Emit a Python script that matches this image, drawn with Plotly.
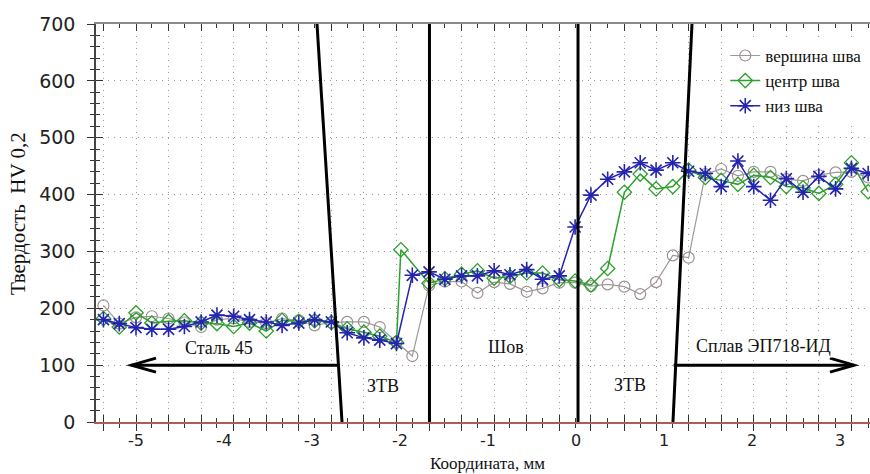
import plotly.graph_objects as go

# ---------------- data ----------------
X_MM = [-5.37, -5.19, -5.00, -4.82, -4.63, -4.45, -4.26, -4.08, -3.89, -3.71,
        -3.52, -3.34, -3.15, -2.97, -2.78, -2.60, -2.41, -2.23, -2.04, -1.86,
        -1.67, -1.49, -1.30, -1.12, -0.93, -0.75, -0.56, -0.38, -0.19, -0.01,
        0.17, 0.36, 0.55, 0.73, 0.91, 1.10, 1.28, 1.47, 1.65, 1.84,
        2.02, 2.21, 2.39, 2.58, 2.76, 2.95, 3.13, 3.32]

TOP_HV = [205, 173, 184, 186, 182, 175, 167, 180, 182, 176,
          174, 182, 179, 170, 175, 176, 176, 167, 141, 116,
          240, 247, 247, 227, 246, 243, 229, 235, 245, 245,
          239, 242, 238, 225, 246, 293, 289, 436, 445, 433,
          440, 440, 427, 424, 434, 439, 440, 430]

CENTER_X = [-5.37, -5.19, -5.00, -4.82, -4.63, -4.45, -4.26, -4.08, -3.89, -3.71,
            -3.52, -3.34, -3.15, -2.97, -2.78, -2.60, -2.41, -2.23, -2.04, -1.99,
            -1.67, -1.49, -1.30, -1.12, -0.93, -0.75, -0.56, -0.38, -0.19, -0.01,
            0.17, 0.36, 0.55, 0.73, 0.91, 1.10, 1.28, 1.47, 1.65, 1.84,
            2.02, 2.21, 2.39, 2.58, 2.76, 2.95, 3.13, 3.32]
CENTER_HV = [182, 167, 192, 174, 177, 178, 174, 173, 168, 174,
             160, 179, 177, 178, 175, 164, 158, 151, 140, 303,
             244, 252, 260, 266, 253, 256, 262, 262, 250, 248,
             241, 270, 404, 436, 410, 414, 443, 430, 425, 418,
             434, 430, 414, 412, 402, 418, 456, 405]

BOTTOM_HV = [180, 173, 166, 163, 163, 168, 176, 188, 186, 180,
             176, 170, 174, 180, 176, 157, 148, 144, 138, 258,
             264, 251, 257, 257, 266, 259, 268, 251, 257, 343,
             399, 427, 440, 456, 443, 456, 441, 437, 414, 459,
             414, 390, 428, 404, 432, 410, 446, 437]

SERIES_NAMES = ["вершина шва", "центр шва", "низ шва"]
X_TICKS = [-5, -4, -3, -2, -1, 0, 1, 2, 3]
X_TICK_TEXT = ["-5", "-4", "-3", "-2", "-1", "0", "1", "2", "3"]
Y_TICKS = [0, 100, 200, 300, 400, 500, 600, 700]

X_RANGE = [-5.4545, 3.341]
Y_RANGE = [0, 700]

SERIF = "Liberation Serif, Times New Roman, serif"
SANS = "DejaVu Sans, Verdana, sans-serif"

GRID_POS = X_MM[0::2]
MINOR_POS = X_MM[1::2]

fig = go.Figure()

fig.add_trace(go.Scatter(
    x=X_MM, y=TOP_HV, name=SERIES_NAMES[0], mode="lines+markers",
    line=dict(color="#9a9a9a", width=1.2),
    marker=dict(symbol="circle-open", size=11, color="#a09090",
                line=dict(width=1.2, color="#a09090"))))
fig.add_trace(go.Scatter(
    x=CENTER_X, y=CENTER_HV, name=SERIES_NAMES[1], mode="lines+markers",
    line=dict(color="#2ca02c", width=1.5),
    marker=dict(symbol="diamond-open", size=11, color="#2ca02c",
                line=dict(width=1.3, color="#2ca02c"))))
fig.add_trace(go.Scatter(
    x=X_MM, y=BOTTOM_HV, name=SERIES_NAMES[2], mode="lines+markers",
    line=dict(color="#2424b0", width=1.5),
    marker=dict(symbol="asterisk-open", size=13, color="#2424b0",
                line=dict(width=1.6, color="#2424b0"))))

# invisible helpers so the overlay axes are drawn
for xa, ya in [("x2", "y"), ("x3", "y"), ("x4", "y"), ("x", "y2")]:
    fig.add_trace(go.Scatter(x=[X_RANGE[0]], y=[0], xaxis=xa, yaxis=ya,
                             mode="markers", marker=dict(opacity=0),
                             showlegend=False, hoverinfo="skip"))

grid_style = dict(showgrid=True, gridcolor="#9a9a9a", gridwidth=1, griddash="1px,5px")

fig.update_layout(
    width=870, height=474,
    margin=dict(l=96, r=0, t=24, b=52),
    plot_bgcolor="white", paper_bgcolor="white",
    xaxis=dict(range=X_RANGE, showline=True, linecolor="#b05a5a", linewidth=1.5,
               ticks="outside", tickvals=GRID_POS, ticklen=7, tickcolor="#333",
               tickwidth=1.3, showticklabels=False, zeroline=False,
               minor=dict(tickvals=MINOR_POS, ticks="outside", ticklen=4,
                          tickcolor="#333", showgrid=False),
               **grid_style),
    xaxis2=dict(range=X_RANGE, overlaying="x", anchor="y", side="bottom",
                ticks="inside", tickvals=GRID_POS, ticklen=7, tickcolor="#333",
                tickwidth=1.3, showticklabels=False, showgrid=False,
                showline=False, zeroline=False,
                minor=dict(tickvals=MINOR_POS, ticks="inside", ticklen=4,
                           tickcolor="#333", showgrid=False)),
    xaxis3=dict(range=X_RANGE, overlaying="x", anchor="y", side="bottom",
                tickmode="array", tickvals=X_TICKS, ticktext=X_TICK_TEXT,
                ticks="", showgrid=False, showline=False, zeroline=False,
                ticklabelstandoff=7,
                tickfont=dict(family=SANS, size=16, color="#222")),
    xaxis4=dict(range=X_RANGE, overlaying="x", anchor="y", side="top",
                showline=True, linecolor="#8a8a8a", linewidth=2,
                ticks="inside", tickvals=GRID_POS, ticklen=7, tickcolor="#333",
                tickwidth=1.3, showticklabels=False, showgrid=False, zeroline=False,
                minor=dict(tickvals=MINOR_POS, ticks="inside", ticklen=4,
                           tickcolor="#333", showgrid=False)),
    yaxis=dict(range=Y_RANGE, showline=True, linecolor="#444", linewidth=1.5,
               ticks="outside", tickvals=Y_TICKS, ticklen=7, tickcolor="#333",
               tickwidth=1.3, zeroline=False, ticklabelstandoff=8,
               tickfont=dict(family=SANS, size=19, color="#222"),
               minor=dict(dtick=20, ticks="outside", ticklen=4,
                          tickcolor="#333", showgrid=False),
               **grid_style),
    yaxis2=dict(range=Y_RANGE, overlaying="y", anchor="x", side="left",
                ticks="inside", tickvals=Y_TICKS, ticklen=7, tickcolor="#333",
                tickwidth=1.3, showticklabels=False, showgrid=False,
                showline=False, zeroline=False,
                minor=dict(dtick=20, ticks="inside", ticklen=4,
                           tickcolor="#333", showgrid=False)),
    legend=dict(x=0.813, y=0.965, xanchor="left", yanchor="top",
                bgcolor="white", borderwidth=0,
                font=dict(family=SERIF, size=17, color="#111"),
                tracegroupgap=0),
    showlegend=True,
)

# zone boundary lines
boundaries = [(-2.943, -2.659), (-1.665, -1.665), (0.023, 0.023), (1.318, 1.102)]
for xt, xb in boundaries:
    fig.add_shape(type="line", xref="x", yref="y", x0=xb, y0=0, x1=xt, y1=700,
                  line=dict(color="black", width=3))

# arrows
arrow = dict(color="black", width=3)
fig.add_shape(type="line", xref="x", yref="y", x0=-2.693, y0=100, x1=-5.051, y1=100, line=arrow)
fig.add_shape(type="path", xref="x", yref="y",
              path="M -4.773,112.3 L -5.051,100 L -4.773,87.7", line=arrow)
fig.add_shape(type="line", xref="x", yref="y", x0=1.11, y0=100, x1=3.159, y1=100, line=arrow)
fig.add_shape(type="path", xref="x", yref="y",
              path="M 2.886,112.3 L 3.159,100 L 2.886,87.7", line=arrow)

labels = [("Сталь 45", -4.06, 130), ("Шов", -0.80, 132), ("ЗТВ", -2.193, 64),
          ("ЗТВ", 0.614, 65), ("Сплав ЭП718-ИД", 2.136, 134)]
for txt, xx, yy in labels:
    fig.add_annotation(x=xx, y=yy, xref="x", yref="y", text=txt, showarrow=False,
                       font=dict(family=SERIF, size=18, color="#111"),
                       bgcolor="white", borderpad=1)

fig.add_annotation(x=-0.1008, y=0.525, xref="paper", yref="paper",
                   xanchor="center", yanchor="middle",
                   text="Твердость\u00a0 HV 0,2", textangle=-90, showarrow=False,
                   font=dict(family=SERIF, size=21, color="#111"))
fig.add_annotation(x=0.506, y=-0.1055, xref="paper", yref="paper",
                   xanchor="center", yanchor="middle",
                   text="Координата, мм", showarrow=False,
                   font=dict(family=SERIF, size=17, color="#111"))

fig.write_html("out.html", config={"displayModeBar": False},
               post_script="document.body.style.margin='0px';")
